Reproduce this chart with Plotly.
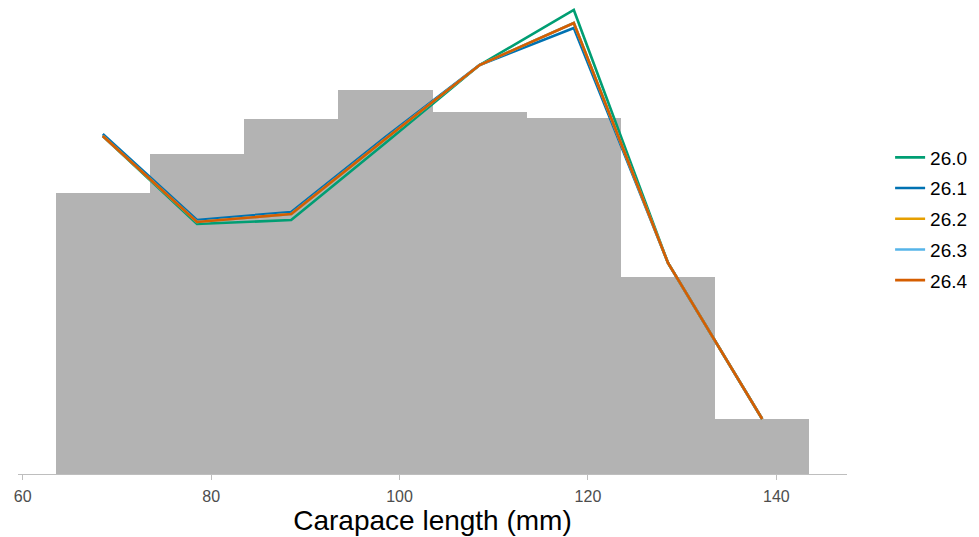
import plotly.graph_objects as go

# Histogram bins (centres, mm) and bar heights (arbitrary units)
bin_centres = [68.5, 78.5, 88.5, 98.5, 108.5, 118.5, 128.5, 138.5]
bar_heights = [281, 320, 355, 384, 362, 356, 197, 55]

# Line series (same arbitrary units)
series_names = ["26.0", "26.1", "26.2", "26.3", "26.4"]
s_260 = [338, 250, 254, 331, 409, 464, 211, 55]
s_261 = [340, 254, 262, 337, 409, 446, 211, 55]
s_262 = [338, 252, 260, 335, 409, 451, 211, 55]
s_263 = [338, 252, 260, 335, 409, 451, 211, 55]
s_264 = [338, 252, 260, 335, 409, 451, 211, 55]
series_values = [s_260, s_261, s_262, s_263, s_264]
series_colors = ["#009E73", "#0072B2", "#E69F00", "#56B4E9", "#D55E00"]

x_ticks = [60, 80, 100, 120, 140]

fig = go.Figure()
fig.add_trace(go.Bar(
    x=bin_centres, y=bar_heights, width=10,
    marker=dict(color="#B3B3B3", line=dict(width=0)),
    showlegend=False, hoverinfo="skip",
))
for name, vals, col in zip(series_names, series_values, series_colors):
    fig.add_trace(go.Scatter(
        x=bin_centres, y=vals, mode="lines", name=name,
        line=dict(color=col, width=2.6),
        legendgroup=name,
    ))

fig.update_layout(
    width=979, height=537,
    margin=dict(l=18, r=132, t=0, b=63),
    paper_bgcolor="white", plot_bgcolor="white",
    bargap=0,
    font=dict(family="Liberation Sans, Arial, sans-serif"),
    legend=dict(
        x=1.052, xanchor="left", y=0.538, yanchor="middle",
        font=dict(size=19, color="black"),
        tracegroupgap=3,
        bgcolor="rgba(0,0,0,0)",
    ),
    xaxis=dict(
        range=[59.5, 147.5],
        tickvals=x_ticks, ticktext=[str(v) for v in x_ticks],
        ticks="outside", ticklen=5, tickcolor="#BEBEBE", tickwidth=1,
        ticklabelstandoff=3,
        showline=True, linecolor="#BEBEBE", linewidth=1,
        showgrid=False, zeroline=False,
        tickfont=dict(size=16, color="#4D4D4D"),
        title=dict(text="Carapace length (mm)", font=dict(size=28, color="black"), standoff=6),
    ),
    yaxis=dict(
        range=[0, 474], visible=False, showgrid=False, zeroline=False,
    ),
)

fig.write_html(
    "out.html",
    config={"displayModeBar": False},
    post_script="document.body.style.margin='0';document.body.style.overflow='hidden';",
)
